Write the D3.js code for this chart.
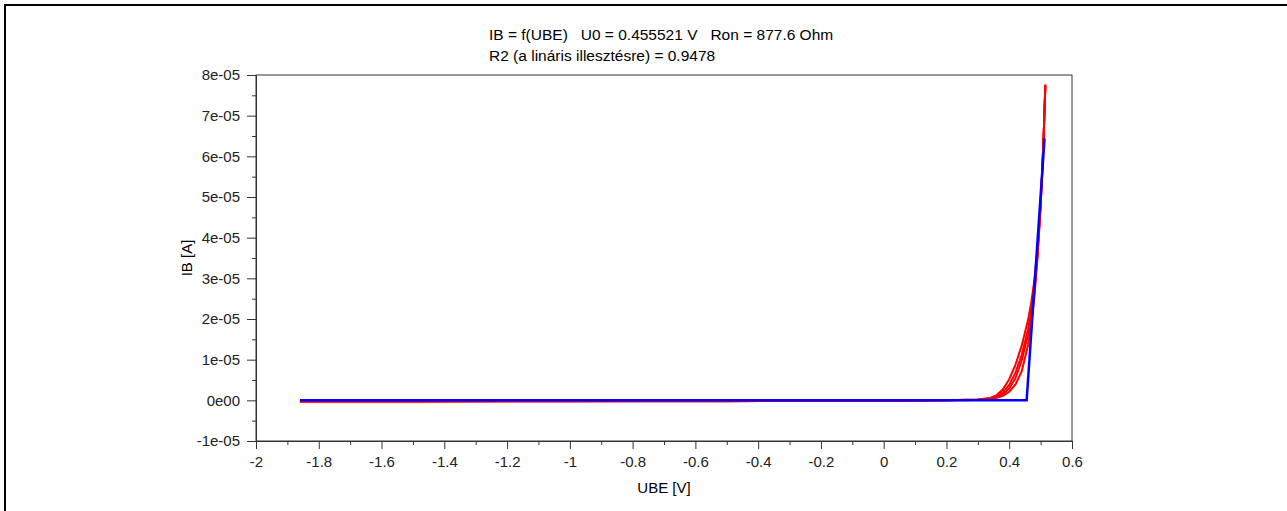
<!DOCTYPE html>
<html>
<head>
<meta charset="utf-8">
<script src="https://cdnjs.cloudflare.com/ajax/libs/d3/7.8.5/d3.min.js"></script>
<style>
  body { margin: 0; background: #fff; }
  text { font-family: "Liberation Sans", Arial, sans-serif; }
</style>
</head>
<body>
<div id="diode-viz"></div>
<script>
// measured UBE values [V]
const ubeGrid = [-1.86, -1.5, -1.0, -0.5, 0.0, 0.2, 0.3, 0.34, 0.36, 0.38, 0.40, 0.42, 0.44, 0.46, 0.47, 0.48, 0.49, 0.50, 0.505, 0.51, 0.515];
// IB of each sweep, in units of 1e-05 A
const ibSweep1 = [-0.03, -0.03, -0.02, -0.02, -0.01, 0.00, 0.01, 0.03, 0.06, 0.11, 0.21, 0.39, 0.72, 1.36, 1.86, 2.54, 3.49, 4.77, 5.57, 6.54, 7.77];
const ibSweep2 = [-0.03, -0.03, -0.02, -0.02, -0.01, 0.00, 0.02, 0.05, 0.10, 0.20, 0.38, 0.68, 1.12, 1.75, 2.20, 2.78, 3.62, 4.82, 5.60, 6.55, 7.74];
const ibSweep3 = [-0.02, -0.02, -0.02, -0.01, -0.01, 0.00, 0.02, 0.06, 0.13, 0.27, 0.52, 0.88, 1.35, 1.98, 2.40, 2.95, 3.75, 4.88, 5.64, 6.58, 7.72];
const ibSweep4 = [-0.02, -0.02, -0.01, -0.01, -0.01, 0.00, 0.01, 0.04, 0.08, 0.15, 0.29, 0.55, 0.98, 1.62, 2.05, 2.66, 3.55, 4.80, 5.58, 6.54, 7.75];
// linear fit (U0 = 0.455521 V, Ron = 877.6 Ohm)
const fitUbe = [-1.86, 0.4555, 0.5125];
const fitIb = [0, 0, 6.44]; // 1e-05 A

const xTickValues = [-2, -1.8, -1.6, -1.4, -1.2, -1, -0.8, -0.6, -0.4, -0.2, 0, 0.2, 0.4, 0.6];
const xTickLabels = ["-2", "-1.8", "-1.6", "-1.4", "-1.2", "-1", "-0.8", "-0.6", "-0.4", "-0.2", "0", "0.2", "0.4", "0.6"];
const yTickValues = [-1, 0, 1, 2, 3, 4, 5, 6, 7, 8]; // 1e-05 A
const yTickLabels = ["-1e-05", "0e00", "1e-05", "2e-05", "3e-05", "4e-05", "5e-05", "6e-05", "7e-05", "8e-05"];

const titleLines = ["IB = f(UBE)   U0 = 0.455521 V   Ron = 877.6 Ohm", "R2 (a lináris illesztésre) = 0.9478"];

const paramsDiode = {
    svgElementId: "#diode-viz",
}

class chartDiode {
    constructor(params) {
        this.width = 1287;
        this.height = 511;
        const m = { left: 256, right: 1072, top: 75, bottom: 441 };

        this.svg = d3.select(params.svgElementId)
            .append("svg")
            .attr("width", this.width)
            .attr("height", this.height);

        // frame round the figure (only top and left edges are visible)
        this.svg.append("rect")
            .attr("x", 5).attr("y", 5)
            .attr("width", 1400).attr("height", 700)
            .attr("fill", "none")
            .attr("stroke", "#000")
            .attr("stroke-width", 2);

        const x = d3.scaleLinear().domain([-2, 0.6]).range([m.left, m.right]);
        const y = d3.scaleLinear().domain([-1, 8]).range([m.bottom, m.top]);

        // plot box
        this.svg.append("rect")
            .attr("x", m.left).attr("y", m.top)
            .attr("width", m.right - m.left).attr("height", m.bottom - m.top)
            .attr("fill", "none")
            .attr("stroke", "#333")
            .attr("stroke-width", 1);

        // minor ticks
        const xMinor = x.ticks(26).filter(v => !xTickValues.some(t => Math.abs(t - v) < 1e-9));
        const yMinor = y.ticks(18).filter(v => !yTickValues.some(t => Math.abs(t - v) < 1e-9));
        this.svg.append("g")
            .attr("transform", `translate(0,${m.bottom})`)
            .call(d3.axisBottom(x).tickValues(xMinor).tickSize(4).tickFormat("").tickSizeOuter(0))
            .call(g => g.select(".domain").remove())
            .call(g => g.selectAll("line").attr("stroke", "#333"));
        this.svg.append("g")
            .attr("transform", `translate(${m.left},0)`)
            .call(d3.axisLeft(y).tickValues(yMinor).tickSize(4).tickFormat("").tickSizeOuter(0))
            .call(g => g.select(".domain").remove())
            .call(g => g.selectAll("line").attr("stroke", "#333"));

        // major axes
        const xAxis = this.svg.append("g")
            .attr("transform", `translate(0,${m.bottom})`)
            .call(d3.axisBottom(x).tickValues(xTickValues)
                .tickFormat((d, i) => xTickLabels[i]).tickSize(8).tickSizeOuter(0).tickPadding(7));
        const yAxis = this.svg.append("g")
            .attr("transform", `translate(${m.left},0)`)
            .call(d3.axisLeft(y).tickValues(yTickValues)
                .tickFormat((d, i) => yTickLabels[i]).tickSize(9).tickSizeOuter(0).tickPadding(7));
        [xAxis, yAxis].forEach(a => {
            a.selectAll("path, line").attr("stroke", "#333");
            a.selectAll("text").attr("fill", "#222").style("font-size", "15px")
                .style("font-family", '"Liberation Sans", Arial, sans-serif');
        });

        // data
        const line = d3.line().x(d => x(d[0])).y(d => y(d[1]));
        const sweeps = [ibSweep1, ibSweep2, ibSweep3, ibSweep4];
        sweeps.forEach(s => {
            this.svg.append("path")
                .datum(ubeGrid.map((u, i) => [u, s[i]]))
                .attr("fill", "none")
                .attr("stroke", "#ff0000")
                .attr("stroke-width", 2)
                .attr("d", line);
        });
        this.svg.append("path")
            .datum(fitUbe.map((u, i) => [u, fitIb[i]]))
            .attr("fill", "none")
            .attr("stroke", "#0000ff")
            .attr("stroke-width", 2.5)
            .attr("d", line);

        // titles (spaces kept as in the original)
        this.svg.selectAll(".title")
            .data(titleLines)
            .join("text")
            .attr("class", "title")
            .attr("x", 489)
            .attr("y", (d, i) => 40 + i * 21)
            .style("font-size", "15.5px")
            .style("white-space", "pre")
            .attr("xml:space", "preserve")
            .attr("fill", "#000")
            .text(d => d);

        this.svg.append("text")
            .attr("x", (m.left + m.right) / 2)
            .attr("y", 493)
            .attr("text-anchor", "middle")
            .style("font-size", "15px")
            .text("UBE [V]");

        this.svg.append("text")
            .attr("transform", `translate(192,${(m.top + m.bottom) / 2}) rotate(-90)`)
            .attr("text-anchor", "middle")
            .style("font-size", "15px")
            .text("IB [A]");
    }
}

function whenDocumentLoaded(action) {
    if (document.readyState === "loading") {
        document.addEventListener("DOMContentLoaded", action);
    } else {
        action();
    }
}
whenDocumentLoaded(() => {
    plot_object = new chartDiode(paramsDiode);
});
</script>
</body>
</html>
